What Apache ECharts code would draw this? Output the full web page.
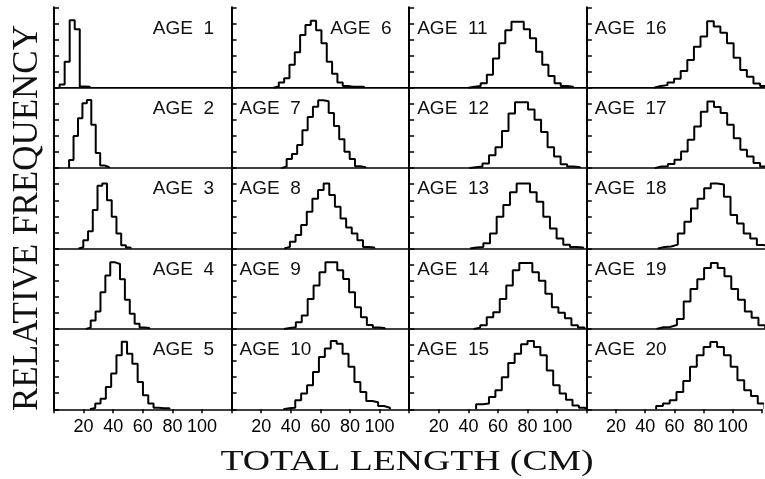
<!DOCTYPE html>
<html>
<head>
<meta charset="utf-8">
<script src="https://cdn.jsdelivr.net/npm/echarts@6/dist/echarts.min.js"></script>
<style>
  html, body { margin: 0; padding: 0; background: #fff; }
  #chart { width: 765px; height: 479px; }
</style>
</head>
<body>
<div id="chart"></div>
<script>
// Relative frequency (%) of each length class, one array per age.
const AGE_1  = [1, 8.1, 21, 18.2, 0.4, 0.3];
const AGE_2  = [2.5, 10, 15.5, 20.2, 21.2, 13.5, 4.7, 0.8, 0.3];
const AGE_3  = [0.4, 2.6, 5.4, 12, 19.5, 20.2, 15, 9.9, 4.7, 1, 0.3];
const AGE_4  = [0.4, 2.6, 5.4, 11.4, 16.6, 20.7, 20.2, 15.4, 9.1, 4.7, 1.6, 0.4, 0.3];
const AGE_5  = [0.4, 1.8, 3.3, 6.9, 11.1, 16.8, 21, 17.3, 14.2, 8.5, 4.4, 1.8, 0.5, 0.3, 0.3];
const AGE_6  = [0.4, 1.6, 2.9, 7.1, 11, 16.4, 19.5, 20.8, 17.9, 13.8, 8.1, 4.3, 1.6, 0.5, 0.3, 0.3, 0.3];
const AGE_7  = [0.5, 2.8, 4.4, 7.2, 11.8, 15.9, 19.1, 21.1, 20.8, 17.1, 13.1, 9, 5.1, 2.8, 0.6, 0.3];
const AGE_8  = [0.5, 2.1, 4.2, 7.3, 11.4, 15.5, 18.2, 20.2, 16.6, 13, 9.3, 6.5, 4.7, 2.6, 0.5, 0.3];
const AGE_9  = [0.3, 0.5, 2.1, 4.2, 9.3, 13.5, 17.6, 20.7, 20.7, 18.2, 15.5, 11.4, 6.7, 3.6, 1.2, 0.4, 0.3];
const AGE_10 = [0.3, 0.5, 2.8, 4.9, 7.5, 11.6, 16.3, 18.9, 21.2, 20.4, 17.3, 13.2, 8.5, 5.4, 2.6, 2.2, 1, 0.5];
const AGE_11 = [0.3, 0.5, 1.4, 4, 9.1, 13.8, 17.9, 20.5, 20.5, 18.2, 15.4, 11.2, 7.1, 3.6, 1.4, 0.5, 0.3];
const AGE_12 = [0.3, 0.5, 1.4, 4, 6.5, 11.5, 17, 20.5, 20.5, 18.2, 15, 11.2, 6.5, 3.6, 1.2, 0.5, 0.3];
const AGE_13 = [0.3, 0.5, 1.6, 4.7, 9.9, 13.5, 17.5, 20.2, 20.2, 17.5, 14.5, 9.9, 6.2, 3.1, 1.2, 0.5, 0.3];
const AGE_14 = [0.4, 1.1, 3.6, 5.2, 9.3, 13.5, 18.2, 20.5, 20.5, 17.6, 15, 10.9, 6.7, 5, 3.3, 1.1, 0.4];
const AGE_15 = [1.6, 1.8, 3.8, 5.9, 10, 14.4, 17.3, 20.2, 21.2, 19.4, 16.8, 12.1, 7.5, 4.9, 3, 1.2, 0.5];
const AGE_16 = [0.5, 0.8, 1.6, 2.8, 5.2, 8.6, 12.7, 15.9, 20.7, 19, 17.1, 13.8, 9.3, 5.5, 3.4, 1.3, 0.5];
const AGE_17 = [0.5, 0.6, 1.3, 2.6, 5.2, 8.8, 12.9, 17.5, 20.7, 19, 17.1, 13.5, 9.3, 5.7, 3.6, 1.6, 0.5];
const AGE_18 = [0.5, 0.6, 1.2, 4.7, 8.3, 12.4, 15.5, 18.7, 20.2, 19.9, 16.1, 10.4, 7.8, 4.7, 3.1, 1.1, 0.5];
const AGE_19 = [0.5, 0.6, 1.2, 3.1, 8.5, 12.4, 15.4, 18.9, 20.5, 18.9, 16.4, 12.4, 9.1, 5.4, 3.5, 1.1];
const AGE_20 = [1, 1.8, 2.8, 5.4, 8.8, 13.2, 16.8, 19.4, 20.9, 19.4, 16.8, 13.2, 9, 5.9, 4.1, 1.8];

// Lower edge of the first length class (cm) and class width (cm), ages 1..20.
const BIN_START = [3.8, 10.2, 16.6, 21.5, 24.3, 28.3, 33.65, 35.6, 35.4, 35,
                   39.98, 40.7, 41.1, 43.6, 45.22, 45.56, 45.9, 48.15, 47.12, 47.5];
const BIN_WIDTH = [3.4, 3.0, 3.2, 3.3, 3.58, 3.6, 3.55, 3.8, 4, 4,
                   4.16, 4.4, 4.5, 4.4, 4.34, 4.47, 4.45, 4.45, 4.59, 4.64];

const AGES = [1, 2, 3, 4, 5, 6, 7, 8, 9, 10, 11, 12, 13, 14, 15, 16, 17, 18, 19, 20];
const FREQS = [AGE_1, AGE_2, AGE_3, AGE_4, AGE_5, AGE_6, AGE_7, AGE_8, AGE_9, AGE_10,
               AGE_11, AGE_12, AGE_13, AGE_14, AGE_15, AGE_16, AGE_17, AGE_18, AGE_19, AGE_20];
const X_TICK_LABELS = [20, 40, 60, 80, 100];

// Panel layout
const W = 765, H = 479;
const LEFT0 = 54, COL_W = 177.6, TOP0 = 7.3, ROW_H = 80.4;
const ROWS = 5;
const SANS = '"Liberation Sans", Arial, Helvetica, sans-serif';
const SERIF = '"Liberation Serif", "Times New Roman", serif';

const grids = [], xAxes = [], yAxes = [], series = [], titles = [];

AGES.forEach((age, i) => {
  const col = Math.floor(i / ROWS), row = i % ROWS;
  const left = LEFT0 + col * COL_W, top = TOP0 + row * ROW_H;
  const bottomRow = row === ROWS - 1;
  grids.push({ left: left, top: top, width: COL_W, height: ROW_H, containLabel: false });

  xAxes.push({
    gridIndex: i, type: 'value', min: 0, max: 120, interval: 20,
    axisLine: { show: true, onZero: false, lineStyle: { color: '#000', width: 1.5 } },
    axisTick: { show: bottomRow, inside: false, length: 4, lineStyle: { color: '#000', width: 1.5 } },
    axisLabel: {
      show: bottomRow, margin: 9, color: '#000', fontSize: 18, fontFamily: SANS,
      formatter: v => (X_TICK_LABELS.indexOf(v) >= 0 ? String(v) : '')
    },
    splitLine: { show: false }
  });
  if (row === 0) {
    // frame line along the top of the first row
    xAxes.push({
      gridIndex: i, type: 'value', min: 0, max: 120, position: 'top',
      axisLine: { show: true, lineStyle: { color: '#000', width: 1 } },
      axisTick: { show: false }, axisLabel: { show: false }, splitLine: { show: false }
    });
  }
  yAxes.push({
    gridIndex: i, type: 'value', min: 0, max: 25, interval: 5,
    axisLine: { show: true, lineStyle: { color: '#000', width: 2 } },
    axisTick: { show: true, inside: true, length: 5, lineStyle: { color: '#000', width: 1.5 } },
    axisLabel: { show: false },
    splitLine: { show: false }
  });

  // histogram outline: one step per length class
  const f = FREQS[i], s0 = BIN_START[i], w = BIN_WIDTH[i];
  const pts = [[s0, 0]];
  f.forEach((h, k) => pts.push([s0 + k * w, h]));
  pts.push([s0 + f.length * w, 0]);
  series.push({
    type: 'line', xAxisIndex: xAxes.length - (row === 0 ? 2 : 1), yAxisIndex: i,
    data: pts, step: 'end', showSymbol: false, clip: true, silent: true,
    lineStyle: { color: '#000', width: 2 }
  });

  const label = 'AGE  ' + age;
  const rightAligned = col === 0 || age === 6;
  const t = {
    text: label, top: top + 11.5, padding: 0,
    textStyle: { fontFamily: SANS, fontSize: 19, fontWeight: 'normal', color: '#111', lineHeight: 19 }
  };
  if (rightAligned) t.right = W - (left + 160); else t.left = left + 8;
  titles.push(t);
});

const chart = echarts.init(document.getElementById('chart'), null, { renderer: 'canvas' });
chart.setOption({
  animation: false,
  backgroundColor: '#fff',
  title: titles,
  grid: grids,
  xAxis: xAxes,
  yAxis: yAxes,
  series: series,
  graphic: [
    {
      type: 'text', x: 28, y: 218, rotation: Math.PI / 2,
      style: { text: 'RELATIVE FREQUENCY', font: '35px ' + SERIF, fill: '#111',
               align: 'center', verticalAlign: 'middle' }
    },
    {
      type: 'text', x: 407, y: 462, scaleX: 1.3,
      style: { text: 'TOTAL LENGTH (CM)', font: '29px ' + SERIF, fill: '#111',
               align: 'center', verticalAlign: 'middle' }
    }
  ]
});
</script>
</body>
</html>
